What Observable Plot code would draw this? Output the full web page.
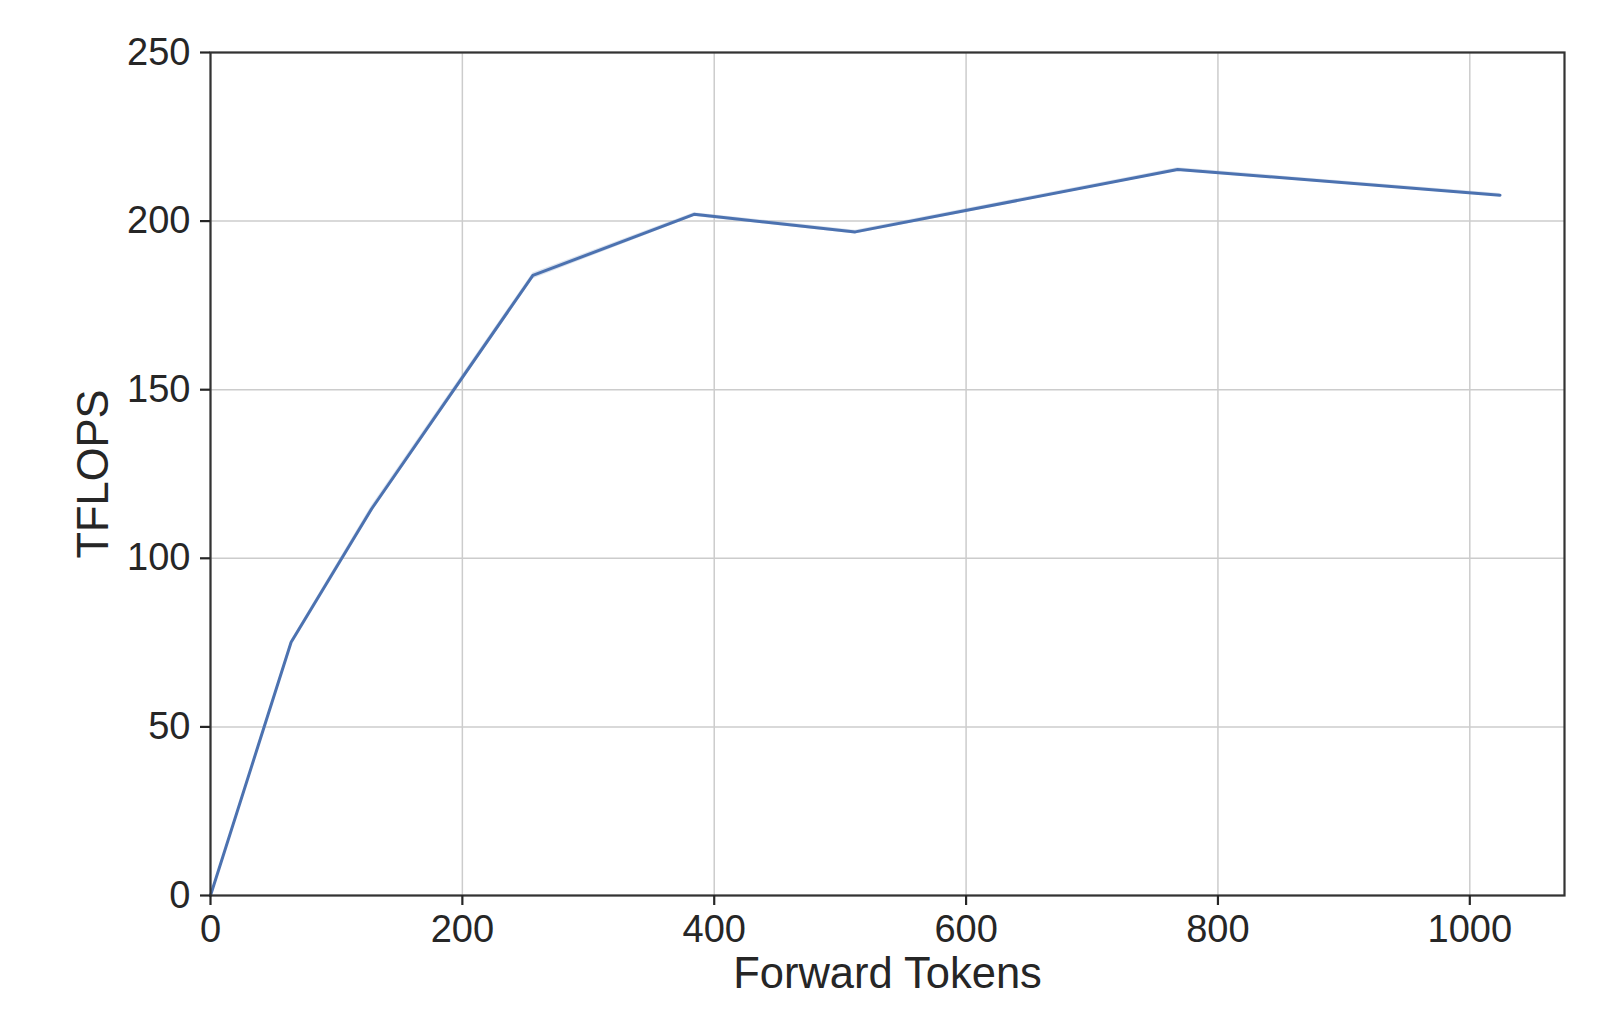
<!DOCTYPE html>
<html>
<head>
<meta charset="utf-8">
<script src="https://cdn.jsdelivr.net/npm/d3@7"></script>
<script src="https://cdn.jsdelivr.net/npm/@observablehq/plot@0.6"></script>
<style>
  html, body { margin: 0; padding: 0; background: #ffffff; }
  #chart { width: 1607px; height: 1020px; }
</style>
</head>
<body>
<div id="chart"></div>
<script>
const tokens = [0, 64, 128, 256, 384, 512, 768, 1024];
const tflops = [0, 75.1, 114.7, 183.9, 202.0, 196.8, 215.3, 207.7];
const tflopsLow = [0, 74.6, 113.6, 182.8, 201.4, 196.2, 214.8, 207.2];
const tflopsHigh = [0, 75.6, 115.6, 184.6, 202.5, 197.3, 215.8, 208.2];
const xTicks = [0, 200, 400, 600, 800, 1000];
const yTicks = [0, 50, 100, 150, 200, 250];
const xLabel = "Forward Tokens";
const yLabel = "TFLOPS";

const data = tokens.map((t, i) => ({t, v: tflops[i], lo: tflopsLow[i], hi: tflopsHigh[i]}));

const ink = "#262626";
const chart = Plot.plot({
  width: 1607,
  height: 1020,
  marginLeft: 210,
  marginRight: 43,
  marginTop: 52,
  marginBottom: 125,
  style: {fontFamily: "'Liberation Sans', Arial, sans-serif", fontSize: "38px", color: ink, background: "#ffffff"},
  x: {domain: [0, 1075.2]},
  y: {domain: [0, 250]},
  marks: [
    Plot.gridX(xTicks, {stroke: "#cccccc", strokeOpacity: 1, strokeWidth: 1.5}),
    Plot.gridY(yTicks, {stroke: "#cccccc", strokeOpacity: 1, strokeWidth: 1.5}),
    Plot.areaY(data, {x: "t", y1: "lo", y2: "hi", fill: "#4C72B0", fillOpacity: 0.2}),
    Plot.line(data, {x: "t", y: "v", stroke: "#4C72B0", strokeWidth: 3}),
    Plot.frame({stroke: "#333333", strokeWidth: 2.2}),
    Plot.axisX(xTicks, {tickSize: 10, tickPadding: 10, strokeWidth: 2.2, label: null, fontSize: 38, tickFormat: d => String(d)}),
    Plot.axisY(yTicks, {tickSize: 10, tickPadding: 10, strokeWidth: 2.2, label: null, fontSize: 38, tickFormat: d => String(d)}),
    Plot.text([xLabel], {frameAnchor: "bottom", dy: 79, lineAnchor: "middle", textAnchor: "middle", fontSize: 43.5, fill: ink}),
    Plot.text([yLabel], {frameAnchor: "left", dx: -116, dy: 0, rotate: -90, lineAnchor: "middle", textAnchor: "middle", fontSize: 43.5, fill: ink})
  ]
});
document.getElementById("chart").appendChild(chart);
</script>
</body>
</html>
